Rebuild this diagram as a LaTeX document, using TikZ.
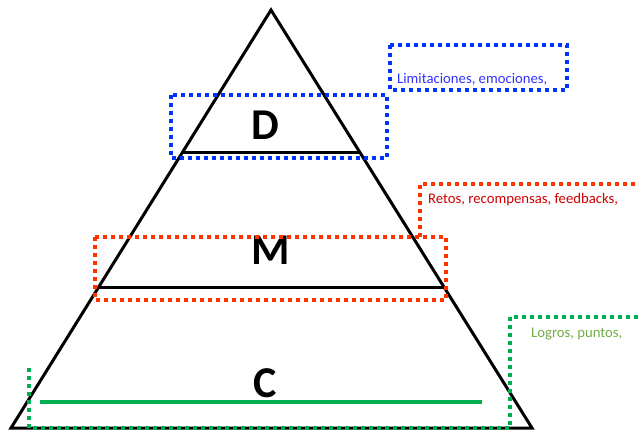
\documentclass[tikz,border=0pt]{standalone}
\usepackage{fontspec}
\setmainfont{Carlito}
\definecolor{dblue}{RGB}{0,51,255}
\definecolor{tblue}{RGB}{51,51,255}
\definecolor{dred}{RGB}{255,51,0}
\definecolor{tred}{RGB}{204,0,0}
\definecolor{dgreen}{RGB}{0,176,80}
\definecolor{tgreen}{RGB}{112,173,71}
\tikzset{
  dotbox/.style={line width=4pt,dash pattern=on 4pt off 4pt,line cap=butt},
  level/.style={inner sep=0pt,font=\fontsize{44}{44}\selectfont\bfseries},
  note/.style={inner sep=0pt,anchor=base west,font=\fontsize{14.7}{16}\selectfont}
}
\begin{document}
\begin{tikzpicture}[x=1pt,y=-1pt]
\useasboundingbox (0,0) rectangle (639,429);
% pyramid
\coordinate (top) at (271,10);
\coordinate (bl) at (11,428);
\coordinate (br) at (532,428);
\draw[line width=3pt,line join=miter] (bl) -- (top) -- (br) -- cycle;
\coordinate (d1) at (183,152);
\coordinate (d2) at (359,152);
\draw[line width=3pt] (d1) -- (d2);
\coordinate (m1) at (99,287);
\coordinate (m2) at (444,287);
\draw[line width=3pt] (m1) -- (m2);
\coordinate (c1) at (40,402);
\coordinate (c2) at (482,402);
\draw[line width=4pt,dgreen] (c1) -- (c2);
% levels
\node[level] (D) at (265,125) {D};
\node[level] (M) at (271,250) {M};
\node[level] (C) at (265,383) {C};
% blue boxes
\draw[dotbox,dblue] (171,95) rectangle (387,158);
\draw[dotbox,dblue] (390,45) rectangle (567,90);
\node[note,text=tblue] (lim) at (397,83) {Limitaciones, emociones,};
% red boxes
\draw[dotbox,dred] (95,237) rectangle (446,300);
\draw[dotbox,dred] (420,237) -- (420,184) -- (660,184);
\node[note,text=tred] (ret) at (428,203) {Retos, recompensas, feedbacks,};
% green boxes
\draw[dotbox,dgreen] (29,368) -- (29,428) -- (510,428) -- (510,317) -- (660,317);
\node[note,text=tgreen] (log) at (531,337) {Logros, puntos,};
\end{tikzpicture}
\end{document}
